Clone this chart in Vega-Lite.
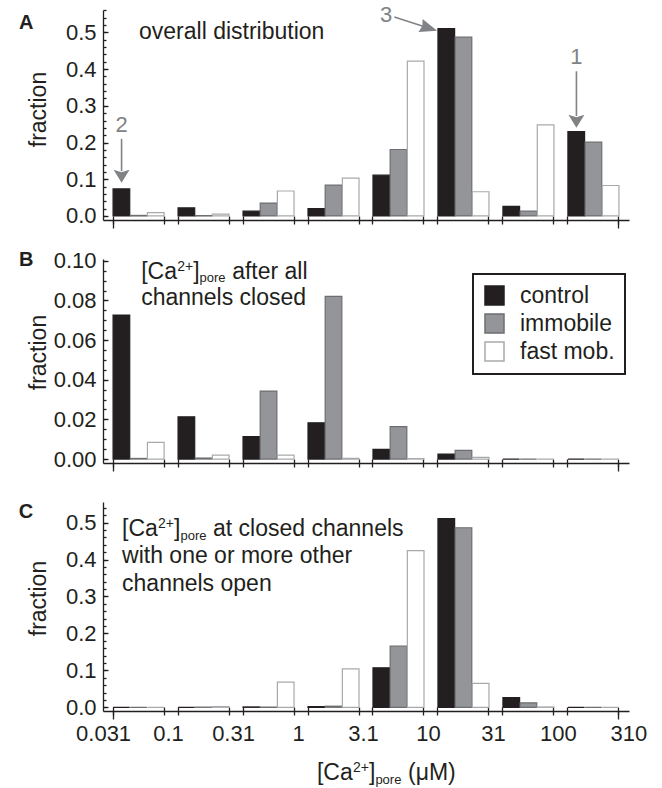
{
"$schema":"https://vega.github.io/schema/vega-lite/v6.json",
"padding":{"left":18,"top":4,"right":4,"bottom":0},
"background":"white",
"config":{"font":"Liberation Sans","view":{"stroke":null},
 "axis":{"domainColor":"#231f20","tickColor":"#231f20","labelColor":"#231f20","titleColor":"#231f20","labelFont":"Liberation Sans","titleFont":"Liberation Sans","grid":false,"domainWidth":1.3,"tickWidth":1.3,"labelFontSize":22,"titleFontSize":23,"titleFontWeight":"normal"},
 "legend":{"strokeWidth":2},
 "text":{"color":"#231f20"}},
"datasets":{"bars":[
{"panel":"A","bin":"0.031","group":"control","value":0.0736},{"panel":"A","bin":"0.031","group":"immobile","value":0.0015},{"panel":"A","bin":"0.031","group":"fast mob.","value":0.009},
{"panel":"A","bin":"0.1","group":"control","value":0.022},{"panel":"A","bin":"0.1","group":"immobile","value":0.001},{"panel":"A","bin":"0.1","group":"fast mob.","value":0.005},
{"panel":"A","bin":"0.31","group":"control","value":0.013},{"panel":"A","bin":"0.31","group":"immobile","value":0.035},{"panel":"A","bin":"0.31","group":"fast mob.","value":0.068},
{"panel":"A","bin":"1","group":"control","value":0.02},{"panel":"A","bin":"1","group":"immobile","value":0.084},{"panel":"A","bin":"1","group":"fast mob.","value":0.103},
{"panel":"A","bin":"3.1","group":"control","value":0.111},{"panel":"A","bin":"3.1","group":"immobile","value":0.181},{"panel":"A","bin":"3.1","group":"fast mob.","value":0.422},
{"panel":"A","bin":"10","group":"control","value":0.51},{"panel":"A","bin":"10","group":"immobile","value":0.487},{"panel":"A","bin":"10","group":"fast mob.","value":0.066},
{"panel":"A","bin":"31","group":"control","value":0.026},{"panel":"A","bin":"31","group":"immobile","value":0.013},{"panel":"A","bin":"31","group":"fast mob.","value":0.248},
{"panel":"A","bin":"100","group":"control","value":0.23},{"panel":"A","bin":"100","group":"immobile","value":0.201},{"panel":"A","bin":"100","group":"fast mob.","value":0.083},
{"panel":"B","bin":"0.031","group":"control","value":0.0726},{"panel":"B","bin":"0.031","group":"immobile","value":0.0003},{"panel":"B","bin":"0.031","group":"fast mob.","value":0.0084},
{"panel":"B","bin":"0.1","group":"control","value":0.0213},{"panel":"B","bin":"0.1","group":"immobile","value":0.0005},{"panel":"B","bin":"0.1","group":"fast mob.","value":0.002},
{"panel":"B","bin":"0.31","group":"control","value":0.0113},{"panel":"B","bin":"0.31","group":"immobile","value":0.0343},{"panel":"B","bin":"0.31","group":"fast mob.","value":0.002},
{"panel":"B","bin":"1","group":"control","value":0.0183},{"panel":"B","bin":"1","group":"immobile","value":0.082},{"panel":"B","bin":"1","group":"fast mob.","value":0.0003},
{"panel":"B","bin":"3.1","group":"control","value":0.0049},{"panel":"B","bin":"3.1","group":"immobile","value":0.0163},{"panel":"B","bin":"3.1","group":"fast mob.","value":0.0002},
{"panel":"B","bin":"10","group":"control","value":0.0025},{"panel":"B","bin":"10","group":"immobile","value":0.0044},{"panel":"B","bin":"10","group":"fast mob.","value":0.0008},
{"panel":"B","bin":"31","group":"control","value":0},{"panel":"B","bin":"31","group":"immobile","value":0},{"panel":"B","bin":"31","group":"fast mob.","value":0},
{"panel":"B","bin":"100","group":"control","value":0},{"panel":"B","bin":"100","group":"immobile","value":0},{"panel":"B","bin":"100","group":"fast mob.","value":0},
{"panel":"C","bin":"0.031","group":"control","value":0},{"panel":"C","bin":"0.031","group":"immobile","value":0},{"panel":"C","bin":"0.031","group":"fast mob.","value":0},
{"panel":"C","bin":"0.1","group":"control","value":0},{"panel":"C","bin":"0.1","group":"immobile","value":0.0005},{"panel":"C","bin":"0.1","group":"fast mob.","value":0.002},
{"panel":"C","bin":"0.31","group":"control","value":0.001},{"panel":"C","bin":"0.31","group":"immobile","value":0.0003},{"panel":"C","bin":"0.31","group":"fast mob.","value":0.068},
{"panel":"C","bin":"1","group":"control","value":0.002},{"panel":"C","bin":"1","group":"immobile","value":0.003},{"panel":"C","bin":"1","group":"fast mob.","value":0.104},
{"panel":"C","bin":"3.1","group":"control","value":0.107},{"panel":"C","bin":"3.1","group":"immobile","value":0.166},{"panel":"C","bin":"3.1","group":"fast mob.","value":0.424},
{"panel":"C","bin":"10","group":"control","value":0.511},{"panel":"C","bin":"10","group":"immobile","value":0.486},{"panel":"C","bin":"10","group":"fast mob.","value":0.065},
{"panel":"C","bin":"31","group":"control","value":0.026},{"panel":"C","bin":"31","group":"immobile","value":0.012},{"panel":"C","bin":"31","group":"fast mob.","value":0.001},
{"panel":"C","bin":"100","group":"control","value":0},{"panel":"C","bin":"100","group":"immobile","value":0},{"panel":"C","bin":"100","group":"fast mob.","value":0}
]},
"spacing":30,
"resolve":{"scale":{"fill":"independent","stroke":"independent"}},
"vconcat":[
{"spacing":20,
 "resolve":{"scale":{"fill":"independent","stroke":"independent"}},
 "vconcat":[
 {"width":526,"height":210,
  "resolve":{"axis":{"x":"independent","y":"independent"}},
  "layer":[
   {"data":{"name":"bars"},"transform":[{"filter":"datum.panel == 'A'"}],
    "mark":{"type":"bar","strokeWidth":1.2},
    "encoding":{
     "x":{"field":"bin","type":"ordinal","scale":{"domain":["0.031","0.1","0.31","1","3.1","10","31","100"],"paddingInner":0.215,"paddingOuter":0.155},
      "axis":{"orient":"bottom","bandPosition":0,"labels":false,"tickSize":4,"title":null}},
     "xOffset":{"field":"group","type":"nominal","scale":{"domain":["control","immobile","fast mob."],"paddingInner":0.03,"paddingOuter":0}},
     "y":{"field":"value","type":"quantitative","scale":{"domain":[-0.011,0.561],"nice":false,"zero":false},
      "axis":{"orient":"left","values":[0,0.1,0.2,0.3,0.4,0.5],"format":".1f","tickSize":-5,"labelPadding":12,"title":"fraction","titleX":-58,"titleY":99,"titleBaseline":"alphabetic","titleAngle":270,"titleAlign":"center"}},
     "y2":{"datum":0},
     "fill":{"field":"group","type":"nominal","scale":{"domain":["control","immobile","fast mob."],"range":["#231f20","#939598","#ffffff"]},"legend":null},
     "stroke":{"field":"group","type":"nominal","scale":{"domain":["control","immobile","fast mob."],"range":["#231f20","#6d6e71","#a7a9ac"]},"legend":null}
    }},
   {"data":{"values":[{"bin":"0.031","y":0.483,"t":"overall distribution"}]},
    "mark":{"type":"text","align":"left","baseline":"alphabetic","fontSize":23},
    "encoding":{
     "x":{"field":"bin","type":"ordinal","bandPosition":0.508,"scale":{"domain":["0.031","0.1","0.31","1","3.1","10","31","100"],"paddingInner":0.215,"paddingOuter":0.155},
      "axis":{"orient":"bottom","bandPosition":1,"labels":false,"domain":false,"tickSize":4,"title":null}},
     "y":{"field":"y","type":"quantitative","scale":{"domain":[-0.011,0.561],"nice":false,"zero":false},
      "axis":{"orient":"left","values":[0,0.02,0.04,0.06,0.08,0.1,0.12,0.14,0.16,0.18,0.2,0.22,0.24,0.26,0.28,0.3,0.32,0.34,0.36,0.38,0.4,0.42,0.44,0.46,0.48,0.5,0.52,0.54,0.56],"tickSize":-3,"labels":false,"domain":false,"title":null}},
     "text":{"field":"t"}}},
   {"data":{"values":[{"bin":"0.031","y":0.5264,"t":"A"}]},
    "mark":{"type":"text","align":"center","baseline":"middle","fontSize":20,"fontWeight":"bold"},
    "encoding":{"x":{"field":"bin","type":"ordinal","bandPosition":-1.702,"axis":{"orient":"bottom","bandPosition":0,"labels":false,"domain":false,"tickSize":-4,"title":null}},"y":{"field":"y","type":"quantitative","axis":null},"text":{"field":"t"}}},
   {"data":{"values":[{"bin":"0.031","y":0.21,"y2":0.122},{"bin":"100","y":0.394,"y2":0.272}]},
    "mark":{"type":"rule","color":"#808285","strokeWidth":1.6},
    "encoding":{"x":{"field":"bin","type":"ordinal","bandPosition":0.1667,"axis":{"orient":"bottom","bandPosition":1,"labels":false,"domain":false,"tickSize":-4,"title":null}},"y":{"field":"y","type":"quantitative","axis":null},"y2":{"field":"y2"}}},
   {"data":{"values":[{"bin":"0.031","y":0.108},{"bin":"100","y":0.258}]},
    "mark":{"type":"point","shape":"M-1,-0.8125L0,-0.5L1,-0.8125L0,0.8125Z","size":256,"filled":true,"color":"#808285","opacity":1,"strokeWidth":0},
    "encoding":{"x":{"field":"bin","type":"ordinal","bandPosition":0.1667,"axis":{"orient":"bottom","bandPosition":0,"values":["0.031"],"labels":false,"domain":false,"tickSize":8,"title":null}},"y":{"field":"y","type":"quantitative","axis":null}}},
   {"data":{"values":[{"bin":"0.031","y":0.248,"t":"2"},{"bin":"100","y":0.434,"t":"1"}]},
    "mark":{"type":"text","align":"center","baseline":"middle","fontSize":22,"color":"#808285"},
    "encoding":{"x":{"field":"bin","type":"ordinal","bandPosition":0.1667,"axis":{"orient":"bottom","bandPosition":1,"values":["100"],"labels":false,"domain":false,"tickSize":8,"title":null}},"y":{"field":"y","type":"quantitative","axis":null},"text":{"field":"t"}}},
   {"data":{"values":[{"bin":"3.1","y":0.547,"t":"3"}]},
    "mark":{"type":"text","align":"center","baseline":"middle","fontSize":22,"color":"#808285"},
    "encoding":{"x":{"field":"bin","type":"ordinal","bandPosition":0.26,"axis":null},"y":{"field":"y","type":"quantitative","axis":null},"text":{"field":"t"}}},
   {"data":{"values":[{"bin":"3.1","y":0.523}]},
    "mark":{"type":"point","shape":"M-1,-0.035L0.3,-0.035L0.22,-0.3L1,0L0.22,0.3L0.3,0.035L-1,0.035Z","size":2025,"angle":17.7,"filled":true,"color":"#808285","opacity":1,"strokeWidth":0},
    "encoding":{"x":{"field":"bin","type":"ordinal","bandPosition":0.839,"axis":null},"y":{"field":"y","type":"quantitative","axis":null}}}
  ]},
 {"width":526,"height":204,
  "resolve":{"axis":{"x":"independent","y":"independent"}},
  "layer":[
   {"data":{"name":"bars"},"transform":[{"filter":"datum.panel == 'B'"}],
    "mark":{"type":"bar","strokeWidth":1.2},
    "encoding":{
     "x":{"field":"bin","type":"ordinal","scale":{"domain":["0.031","0.1","0.31","1","3.1","10","31","100"],"paddingInner":0.215,"paddingOuter":0.155},
      "axis":{"orient":"bottom","bandPosition":0,"labels":false,"tickSize":4,"title":null}},
     "xOffset":{"field":"group","type":"nominal","scale":{"domain":["control","immobile","fast mob."],"paddingInner":0.03,"paddingOuter":0}},
     "y":{"field":"value","type":"quantitative","scale":{"domain":[-0.002,0.1009],"nice":false,"zero":false},
      "axis":{"orient":"left","values":[0,0.02,0.04,0.06,0.08,0.1],"format":".2f","tickSize":-5,"labelPadding":12,"title":"fraction","titleX":-58,"titleY":93,"titleBaseline":"alphabetic","titleAngle":270,"titleAlign":"center"}},
     "y2":{"datum":0},
     "fill":{"field":"group","type":"nominal","scale":{"domain":["control","immobile","fast mob."],"range":["#231f20","#939598","#ffffff"]},
      "legend":{"orient":"none","legendX":370,"legendY":15,"title":null,"symbolType":"square","symbolSize":361,"symbolStrokeWidth":1.5,"labelFontSize":23,"labelColor":"#231f20","labelOffset":14,"rowPadding":3,"padding":10,"strokeColor":"#231f20"}},
     "stroke":{"field":"group","type":"nominal","scale":{"domain":["control","immobile","fast mob."],"range":["#231f20","#6d6e71","#a7a9ac"]},
      "legend":{"orient":"none","legendX":370,"legendY":15,"title":null,"symbolType":"square","symbolSize":361,"symbolStrokeWidth":1.5,"labelFontSize":23,"labelColor":"#231f20","labelOffset":14,"rowPadding":3,"padding":10,"strokeColor":"#231f20"}}
    }},
   {"data":{"values":[{"bin":"0.031","y":0.0776,"t":"channels closed"}]},
    "mark":{"type":"text","align":"left","baseline":"alphabetic","fontSize":23},
    "encoding":{
     "x":{"field":"bin","type":"ordinal","bandPosition":0.55,"scale":{"domain":["0.031","0.1","0.31","1","3.1","10","31","100"],"paddingInner":0.215,"paddingOuter":0.155},
      "axis":{"orient":"bottom","bandPosition":1,"labels":false,"domain":false,"tickSize":4,"title":null}},
     "y":{"field":"y","type":"quantitative","scale":{"domain":[-0.002,0.1009],"nice":false,"zero":false},
      "axis":{"orient":"left","values":[0,0.005,0.01,0.015,0.02,0.025,0.03,0.035,0.04,0.045,0.05,0.055,0.06,0.065,0.07,0.075,0.08,0.085,0.09,0.095,0.1],"tickSize":-3,"labels":false,"domain":false,"title":null}},
     "text":{"field":"t"}}},
   {"data":{"values":[{"bin":"0.031","y":0.1004,"t":"B"}]},
    "mark":{"type":"text","align":"center","baseline":"middle","fontSize":20,"fontWeight":"bold"},
    "encoding":{"x":{"field":"bin","type":"ordinal","bandPosition":-1.702,"axis":{"orient":"bottom","bandPosition":0,"labels":false,"domain":false,"tickSize":-4,"title":null}},"y":{"field":"y","type":"quantitative","axis":null},"text":{"field":"t"}}},
   {"data":{"values":[{"bin":"0.031","y":0.091}]},
    "mark":{"type":"text","align":"left","baseline":"alphabetic","fontSize":23,"text":"[Ca"},
    "encoding":{"x":{"field":"bin","type":"ordinal","bandPosition":0.55,"axis":{"orient":"bottom","bandPosition":1,"labels":false,"domain":false,"tickSize":-4,"title":null}},"y":{"field":"y","type":"quantitative","axis":null}}},
   {"data":{"values":[{"bin":"0.031","y":0.091}]},
    "mark":{"type":"text","align":"left","baseline":"alphabetic","fontSize":14,"text":"2+","dx":36,"dy":-8},
    "encoding":{"x":{"field":"bin","type":"ordinal","bandPosition":0.55,"axis":{"orient":"bottom","bandPosition":0,"values":["0.031"],"labels":false,"domain":false,"tickSize":8,"title":null}},"y":{"field":"y","type":"quantitative","axis":null}}},
   {"data":{"values":[{"bin":"0.031","y":0.091}]},
    "mark":{"type":"text","align":"left","baseline":"alphabetic","fontSize":23,"text":"]","dx":52},
    "encoding":{"x":{"field":"bin","type":"ordinal","bandPosition":0.55,"axis":{"orient":"bottom","bandPosition":1,"values":["100"],"labels":false,"domain":false,"tickSize":8,"title":null}},"y":{"field":"y","type":"quantitative","axis":null}}},
   {"data":{"values":[{"bin":"0.031","y":0.091}]},
    "mark":{"type":"text","align":"left","baseline":"alphabetic","fontSize":13,"text":"pore","dx":58.4,"dy":3},
    "encoding":{"x":{"field":"bin","type":"ordinal","bandPosition":0.55,"axis":null},"y":{"field":"y","type":"quantitative","axis":null}}},
   {"data":{"values":[{"bin":"0.031","y":0.091}]},
    "mark":{"type":"text","align":"left","baseline":"alphabetic","fontSize":23,"text":"after all","dx":91},
    "encoding":{"x":{"field":"bin","type":"ordinal","bandPosition":0.55,"axis":null},"y":{"field":"y","type":"quantitative","axis":null}}}
  ]}
 ]},
 {"width":526,"height":209,
  "resolve":{"axis":{"x":"independent","y":"independent"}},
  "layer":[
   {"data":{"name":"bars"},"transform":[{"filter":"datum.panel == 'C'"}],
    "mark":{"type":"bar","strokeWidth":1.2},
    "encoding":{
     "x":{"field":"bin","type":"ordinal","scale":{"domain":["0.031","0.1","0.31","1","3.1","10","31","100"],"paddingInner":0.215,"paddingOuter":0.155},
      "axis":{"orient":"bottom","bandPosition":0,"labels":true,"labelAngle":0,"labelOffset":-35,"labelPadding":8,"labelOverlap":false,"labelBound":false,"labelFlush":false,"tickSize":4,"title":null}},
     "xOffset":{"field":"group","type":"nominal","scale":{"domain":["control","immobile","fast mob."],"paddingInner":0.03,"paddingOuter":0}},
     "y":{"field":"value","type":"quantitative","scale":{"domain":[-0.01,0.5557],"nice":false,"zero":false},
      "axis":{"orient":"left","values":[0,0.1,0.2,0.3,0.4,0.5],"format":".1f","tickSize":-5,"labelPadding":12,"title":"fraction","titleX":-58,"titleY":96,"titleBaseline":"alphabetic","titleAngle":270,"titleAlign":"center"}},
     "y2":{"datum":0},
     "fill":{"field":"group","type":"nominal","scale":{"domain":["control","immobile","fast mob."],"range":["#231f20","#939598","#ffffff"]},"legend":null},
     "stroke":{"field":"group","type":"nominal","scale":{"domain":["control","immobile","fast mob."],"range":["#231f20","#6d6e71","#a7a9ac"]},"legend":null}
    }},
   {"data":{"values":[{"bin":"0.031","y":0.39,"t":"with one or more other"},{"bin":"0.031","y":0.3143,"t":"channels open"}]},
    "mark":{"type":"text","align":"left","baseline":"alphabetic","fontSize":23},
    "encoding":{
     "x":{"field":"bin","type":"ordinal","bandPosition":0.176,"scale":{"domain":["0.031","0.1","0.31","1","3.1","10","31","100"],"paddingInner":0.215,"paddingOuter":0.155},
      "axis":{"orient":"bottom","bandPosition":1,"domain":false,"tickSize":4,"labelAngle":0,"labelExpr":"datum.value == '100' ? '310' : ''","labelOffset":35.5,"labelPadding":8,"labelOverlap":false,"labelBound":false,"labelFlush":false,"title":null}},
     "y":{"field":"y","type":"quantitative","scale":{"domain":[-0.01,0.5557],"nice":false,"zero":false},
      "axis":{"orient":"left","values":[0,0.02,0.04,0.06,0.08,0.1,0.12,0.14,0.16,0.18,0.2,0.22,0.24,0.26,0.28,0.3,0.32,0.34,0.36,0.38,0.4,0.42,0.44,0.46,0.48,0.5,0.52,0.54],"tickSize":-3,"labels":false,"domain":false,"title":null}},
     "text":{"field":"t"}}},
   {"data":{"values":[{"bin":"0.031","y":0.5286,"t":"C"}]},
    "mark":{"type":"text","align":"center","baseline":"middle","fontSize":20,"fontWeight":"bold"},
    "encoding":{"x":{"field":"bin","type":"ordinal","bandPosition":-1.71,"axis":{"orient":"bottom","bandPosition":0,"labels":false,"domain":false,"tickSize":-4,"title":null}},"y":{"field":"y","type":"quantitative","axis":null},"text":{"field":"t"}}},
   {"data":{"values":[{"bin":"0.031","y":0.465},{"bin":"1","y":-0.1976}]},
    "mark":{"type":"text","align":"left","baseline":"alphabetic","fontSize":23,"text":"[Ca"},
    "encoding":{"x":{"field":"bin","type":"ordinal","bandPosition":0.176,"axis":{"orient":"bottom","bandPosition":1,"labels":false,"domain":false,"tickSize":-4,"title":null}},"y":{"field":"y","type":"quantitative","axis":null}}},
   {"data":{"values":[{"bin":"0.031","y":0.465},{"bin":"1","y":-0.1976}]},
    "mark":{"type":"text","align":"left","baseline":"alphabetic","fontSize":14,"text":"2+","dx":36,"dy":-8},
    "encoding":{"x":{"field":"bin","type":"ordinal","bandPosition":0.176,"axis":{"orient":"bottom","bandPosition":0,"values":["0.031"],"labels":false,"domain":false,"tickSize":8,"title":null}},"y":{"field":"y","type":"quantitative","axis":null}}},
   {"data":{"values":[{"bin":"0.031","y":0.465},{"bin":"1","y":-0.1976}]},
    "mark":{"type":"text","align":"left","baseline":"alphabetic","fontSize":23,"text":"]","dx":52},
    "encoding":{"x":{"field":"bin","type":"ordinal","bandPosition":0.176,"axis":{"orient":"bottom","bandPosition":1,"values":["100"],"labels":false,"domain":false,"tickSize":8,"title":null}},"y":{"field":"y","type":"quantitative","axis":null}}},
   {"data":{"values":[{"bin":"0.031","y":0.465},{"bin":"1","y":-0.1976}]},
    "mark":{"type":"text","align":"left","baseline":"alphabetic","fontSize":13,"text":"pore","dx":58.4,"dy":4},
    "encoding":{"x":{"field":"bin","type":"ordinal","bandPosition":0.176,"axis":null},"y":{"field":"y","type":"quantitative","axis":null}}},
   {"data":{"values":[{"bin":"0.031","y":0.465,"t":"at closed channels"},{"bin":"1","y":-0.1976,"t":"(μM)"}]},
    "mark":{"type":"text","align":"left","baseline":"alphabetic","fontSize":23,"dx":91},
    "encoding":{"x":{"field":"bin","type":"ordinal","bandPosition":0.176,"axis":null},"y":{"field":"y","type":"quantitative","axis":null},"text":{"field":"t"}}}
  ]}
]
}
